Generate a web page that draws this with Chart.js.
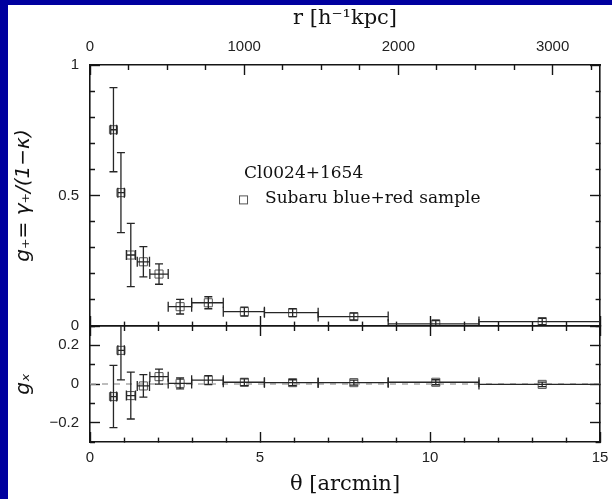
<!DOCTYPE html>
<html><head><meta charset="utf-8">
<script src="https://cdn.jsdelivr.net/npm/chart.js@4.4.1/dist/chart.umd.min.js"></script>
<style>
html,body{margin:0;padding:0;background:#00009f;width:612px;height:499px;overflow:hidden}
#bg{position:absolute;left:8px;top:5px;width:604px;height:494px;background:#fff}
canvas{position:absolute;left:0;top:0}
</style></head><body>
<div id="bg"></div>
<canvas id="topPanel" width="612" height="499"></canvas>
<canvas id="botPanel" width="612" height="499"></canvas>
<script>
// ---- data ----
const thetaArcmin = [0.69, 0.91, 1.20, 1.57, 2.03, 2.65, 3.48, 4.54, 5.96, 7.76, 10.17, 13.30];
const thetaLow    = [0.61, 0.82, 1.07, 1.39, 1.76, 2.30, 2.99, 3.92, 5.13, 6.71, 8.77, 11.44];
const thetaHigh   = [0.78, 1.01, 1.34, 1.75, 2.30, 2.99, 3.92, 5.13, 6.71, 8.77, 11.44, 15.0];
const gPlus  = [0.752, 0.511, 0.272, 0.246, 0.199, 0.074, 0.089, 0.055, 0.051, 0.036, 0.008, 0.017];
const gCross = [-0.065, 0.174, -0.060, -0.010, 0.038, 0.003, 0.020, 0.009, 0.007, 0.007, 0.009, -0.002];
const gError = [0.161, 0.153, 0.121, 0.058, 0.039, 0.028, 0.023, 0.017, 0.015, 0.013, 0.013, 0.012];

// ---- axes / ticks ----
const thetaTicks = [0,1,2,3,4,5,6,7,8,9,10,11,12,13,14,15];
const thetaLabels = [0,5,10,15];
const kpcPerArcmin = 220.5;
const rTicks = [0,250,500,750,1000,1250,1500,1750,2000,2250,2500,2750,3000,3250];
const rLabels = [0,1000,2000,3000];
const gPlusTicks = [0,0.1,0.2,0.3,0.4,0.5,0.6,0.7,0.8,0.9,1];
const gPlusLabels = [0,0.5,1];
const gCrossTicks = [-0.3,-0.2,-0.1,0,0.1,0.2,0.3];
const gCrossLabels = [-0.2,0,0.2];
const clusterName = 'Cl0024+1654';
const sampleName = 'Subaru blue+red sample';

const near = (a, b) => Math.abs(a - b) < 1e-9;
const inList = (list, v) => list.some(t => near(t, v));
const fmt = v => (v < 0 ? '\u2212' : '') + String(Math.abs(+v.toFixed(6)));

const INK = '#151515';
function tickAxis(opts) {
  const {pos, min, max, ticks, labels, size, labelPad, title} = opts;
  const startAtInner = (pos === 'left' || pos === 'top');
  return {
    type: 'linear', axis: (pos === 'left' || pos === 'right') ? 'y' : 'x',
    position: pos, min, max,
    afterBuildTicks: s => { s.ticks = ticks.map(v => ({value: v})); },
    afterFit: s => {
      if (pos === 'left' || pos === 'right') s.width = size; else s.height = size;
      s.paddingLeft = 0; s.paddingRight = 0; s.paddingTop = 0; s.paddingBottom = 0;
    },
    ticks: {
      display: !!labels, autoSkip: false, padding: labelPad || 0,
      maxRotation: 0, minRotation: 0,
      color: '#222', font: {family: 'Liberation Sans', size: 15},
      callback: v => (labels && inList(labels, v)) ? fmt(v) : ''
    },
    grid: {
      drawOnChartArea: false, drawTicks: true, tickLength: -10,
      tickColor: INK, tickWidth: 1.4,
      tickBorderDash: c => {
        if (!c.tick) return [];
        const major = inList(opts.major, c.tick.value);
        if (major) return [];
        return startAtInner ? [0, 5, 5, 100] : [5, 100];
      }
    },
    border: {display: true, color: INK, width: 1.6},
    title: title || {display: false}
  };
}

function errorBars(xArr, loArr, hiArr, yArr, errArr) {
  return {
    id: 'errorBars',
    afterDatasetsDraw(chart) {
      const {ctx, chartArea: a} = chart;
      const xs = chart.scales.x, ys = chart.scales.y;
      ctx.save();
      ctx.beginPath(); ctx.rect(a.left, a.top, a.right - a.left, a.bottom - a.top); ctx.clip();
      ctx.strokeStyle = '#262626'; ctx.lineWidth = 1.3;
      yArr.forEach((v, i) => {
        const px = xs.getPixelForValue(xArr[i]);
        const py = ys.getPixelForValue(v);
        const x0 = xs.getPixelForValue(loArr[i]), x1 = xs.getPixelForValue(hiArr[i]);
        const y0 = ys.getPixelForValue(v - errArr[i]), y1 = ys.getPixelForValue(v + errArr[i]);
        ctx.beginPath();
        ctx.moveTo(px, y0); ctx.lineTo(px, y1);
        ctx.moveTo(px - 4, y0); ctx.lineTo(px + 4, y0);
        ctx.moveTo(px - 4, y1); ctx.lineTo(px + 4, y1);
        ctx.moveTo(x0, py); ctx.lineTo(x1, py);
        ctx.moveTo(x0, py - 5); ctx.lineTo(x0, py + 5);
        ctx.moveTo(x1, py - 5); ctx.lineTo(x1, py + 5);
        ctx.stroke();
      });
      ctx.restore();
    }
  };
}

const legendPlugin = {
  id: 'legendText',
  afterDraw(chart) {
    const {ctx} = chart;
    const xs = chart.scales.x, ys = chart.scales.y;
    const x = xs.getPixelForValue(4.53);
    const y1 = ys.getPixelForValue(0.585), y2 = ys.getPixelForValue(0.487);
    ctx.save();
    ctx.fillStyle = '#111';
    ctx.font = '17px "DejaVu Serif"';
    ctx.textBaseline = 'middle';
    ctx.fillText(clusterName, x, y1);
    ctx.fillText(sampleName, x + 21, y2);
    ctx.strokeStyle = '#555'; ctx.lineWidth = 1;
    ctx.strokeRect(x - 4.5, y2 - 3, 8, 8);
    ctx.restore();
  }
};

const pointStyle = {
  pointStyle: 'rect', pointRadius: 5.7, pointBorderWidth: 1,
  pointBorderColor: '#555', pointBackgroundColor: 'rgba(0,0,0,0)', showLine: false
};

Chart.defaults.font.family = 'Liberation Sans';

new Chart(document.getElementById('topPanel'), {
  type: 'scatter',
  data: { datasets: [ Object.assign({
    label: sampleName,
    data: thetaArcmin.map((t, i) => ({x: t, y: gPlus[i]})),
    xAxisID: 'x', yAxisID: 'y'
  }, pointStyle) ] },
  options: {
    responsive: false, animation: false, devicePixelRatio: 1,
    layout: {padding: 0},
    plugins: {legend: {display: false}, tooltip: {enabled: false}},
    scales: {
      x: tickAxis({pos: 'bottom', min: 0, max: 15, ticks: thetaTicks, major: thetaLabels, size: 173}),
      xTop: tickAxis({pos: 'top', min: 0, max: 15 * kpcPerArcmin, ticks: rTicks, labels: rLabels, major: rLabels, size: 65, labelPad: 19,
        title: {display: true, text: 'r [h\u207B\u00B9kpc]', color: '#111', font: {family: 'DejaVu Serif', size: 21}, padding: {top: 6, bottom: 0}}}),
      y: tickAxis({pos: 'left', min: 0, max: 1, ticks: gPlusTicks, labels: gPlusLabels, major: gPlusLabels, size: 90, labelPad: 21,
        title: {display: true, text: 'g\u208A= \u03B3\u208A/(1\u2212\u03BA)', color: '#111', font: {family: 'DejaVu Sans', size: 20, style: 'italic'}, padding: {top: 12, bottom: 0}}}),
      yRight: tickAxis({pos: 'right', min: 0, max: 1, ticks: gPlusTicks, major: gPlusLabels, size: 12})
    }
  },
  plugins: [errorBars(thetaArcmin, thetaLow, thetaHigh, gPlus, gError), legendPlugin]
});

new Chart(document.getElementById('botPanel'), {
  type: 'scatter',
  data: { datasets: [
    {
      label: 'zero', data: [{x: 0, y: 0}, {x: 15, y: 0}], xAxisID: 'x', yAxisID: 'y',
      showLine: true, borderColor: '#a8a8a8', borderWidth: 1.5, borderDash: [6, 6], pointRadius: 0
    },
    Object.assign({
      label: sampleName,
      data: thetaArcmin.map((t, i) => ({x: t, y: gCross[i]})),
      xAxisID: 'x', yAxisID: 'y'
    }, pointStyle)
  ] },
  options: {
    responsive: false, animation: false, devicePixelRatio: 1,
    layout: {padding: 0},
    plugins: {legend: {display: false}, tooltip: {enabled: false}},
    scales: {
      x: tickAxis({pos: 'bottom', min: 0, max: 15, ticks: thetaTicks, labels: thetaLabels, major: thetaLabels, size: 57, labelPad: 17,
        title: {display: true, text: '\u03B8 [arcmin]', color: '#111', font: {family: 'DejaVu Serif', size: 21}, padding: {top: 0, bottom: 2}}}),
      xTop: tickAxis({pos: 'top', min: 0, max: 15, ticks: thetaTicks, major: thetaLabels, size: 326}),
      y: tickAxis({pos: 'left', min: -0.3, max: 0.3, ticks: gCrossTicks, labels: gCrossLabels, major: gCrossLabels, size: 90, labelPad: 21,
        title: {display: true, text: 'g\u2093', color: '#111', font: {family: 'DejaVu Sans', size: 20, style: 'italic'}, padding: {top: 12, bottom: 0}}}),
      yRight: tickAxis({pos: 'right', min: -0.3, max: 0.3, ticks: gCrossTicks, major: gCrossLabels, size: 12})
    }
  },
  plugins: [errorBars(thetaArcmin, thetaLow, thetaHigh, gCross, gError)]
});
</script>
</body></html>
